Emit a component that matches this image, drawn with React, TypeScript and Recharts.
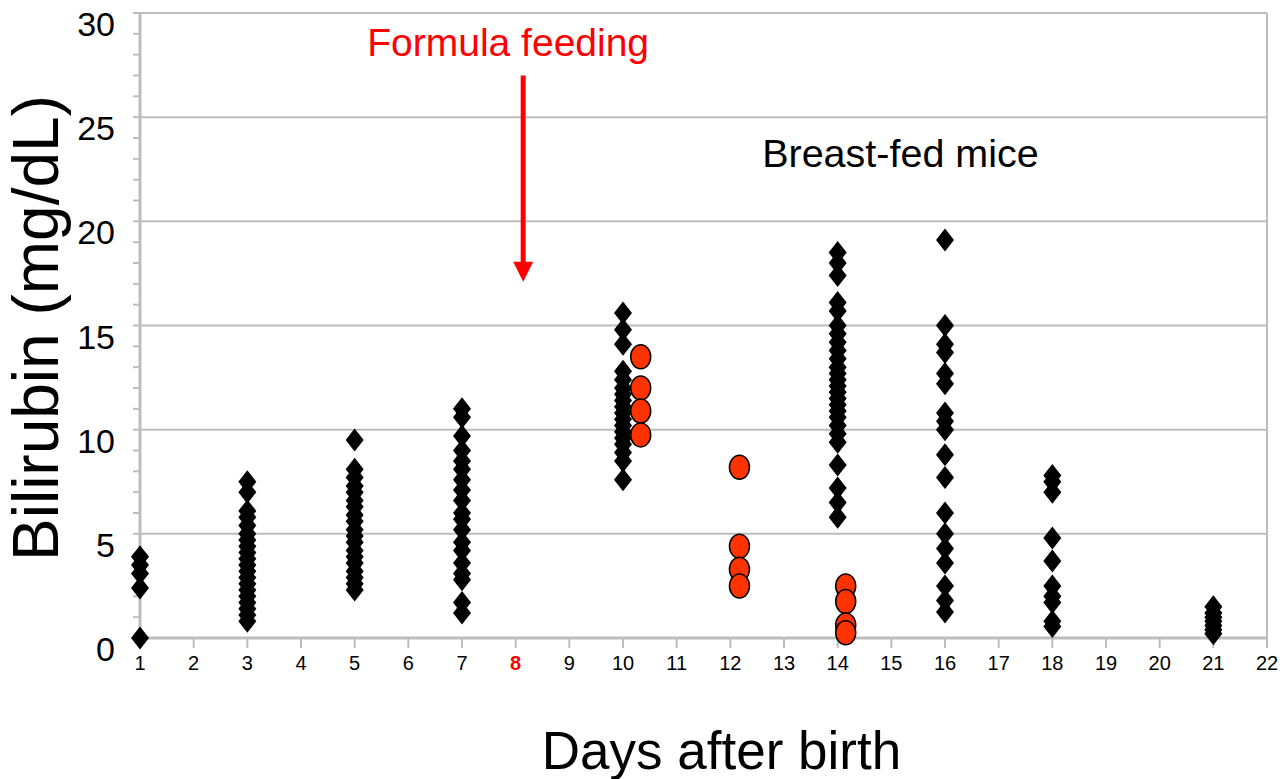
import React from 'react';
import {
  ScatterChart, Scatter, XAxis, YAxis, CartesianGrid, ReferenceLine, ReferenceDot
} from 'recharts';

// bilirubin readings per sampling day (mg/dL)
const breastDay1 = [3.9, 3.5, 3.1, 2.4, 0];
const breastDay3 = [7.5, 7.0, 6.1, 5.8, 5.4, 5.0, 4.7, 4.4, 4.1, 3.8, 3.5, 3.2, 2.9, 2.6, 2.3, 2.0, 1.7, 1.4, 1.1, 0.8];
const breastDay5 = [9.5, 8.1, 7.7, 7.3, 7.0, 6.6, 6.3, 5.9, 5.6, 5.2, 4.9, 4.6, 4.2, 3.9, 3.6, 3.2, 2.9, 2.6, 2.3];
const breastDay7 = [11.0, 10.6, 9.7, 9.0, 8.5, 8.1, 7.6, 7.1, 6.6, 6.0, 5.7, 5.2, 4.6, 4.2, 3.6, 3.1, 2.8, 1.7, 1.2];
const breastDay10 = [15.6, 14.8, 14.1, 12.8, 12.4, 12.0, 11.7, 11.4, 11.1, 10.8, 10.5, 10.2, 9.9, 9.6, 9.3, 8.9, 8.5, 7.6];
const breastDay14 = [18.5, 18.0, 17.4, 16.1, 15.7, 15.0, 14.6, 14.2, 13.8, 13.4, 13.0, 12.7, 12.4, 12.1, 11.8, 11.5, 11.2, 10.9, 10.6, 10.2, 9.8, 9.4, 8.3, 7.2, 6.5, 5.8];
const breastDay16 = [19.1, 15.0, 14.1, 13.7, 12.7, 12.2, 10.8, 10.4, 10.0, 8.8, 7.7, 6.0, 5.0, 4.3, 3.6, 2.5, 1.8, 1.25];
const breastDay18 = [7.8, 7.5, 7.0, 4.8, 3.7, 2.5, 2.0, 1.7, 0.8, 0.55];
const breastDay21 = [1.5, 1.2, 1.0, 0.8, 0.6, 0.4, 0.2];

const formulaDay10 = [13.5, 12.0, 10.9, 9.75];
const formulaDay12 = [8.2, 4.4, 3.3, 2.5];
const formulaDay14 = [2.5, 1.75, 0.62, 0.25];

const dayTicks = [1, 2, 3, 4, 5, 6, 7, 8, 9, 10, 11, 12, 13, 14, 15, 16, 17, 18, 19, 20, 21, 22];
const bilirubinTicks = Array.from({ length: 31 }, (_, i) => i);
const gridValues = [0, 5, 10, 15, 20, 25, 30];

const toPoints = (day: number, values: number[]) => values.map(v => ({ x: day, y: v }));

const breastFed = [
  ...toPoints(1, breastDay1),
  ...toPoints(3, breastDay3),
  ...toPoints(5, breastDay5),
  ...toPoints(7, breastDay7),
  ...toPoints(10, breastDay10),
  ...toPoints(14, breastDay14),
  ...toPoints(16, breastDay16),
  ...toPoints(18, breastDay18),
  ...toPoints(21, breastDay21),
];

const formulaFed = [
  ...toPoints(10.33, formulaDay10),
  ...toPoints(12.17, formulaDay12),
  ...toPoints(14.15, formulaDay14),
];

const FONT = '"Liberation Sans", Arial, sans-serif';
const AXIS_GRAY = '#bdbdbd';

const Diamond = (props: any) => {
  const { cx, cy } = props;
  if (cx == null || cy == null) return null;
  return (
    <polygon
      points={`${cx},${cy - 11.5} ${cx + 9},${cy} ${cx},${cy + 11.5} ${cx - 9},${cy}`}
      fill="#000"
    />
  );
};

const Oval = (props: any) => {
  const { cx, cy } = props;
  if (cx == null || cy == null) return null;
  return <ellipse cx={cx} cy={cy} rx={10} ry={12} fill="#FF3300" stroke="#000" strokeWidth={1.5} />;
};

const YTick = (props: any) => {
  const { x, y, payload } = props;
  if (payload.value % 5 !== 0) return null;
  return (
    <text x={x} y={y + 11} textAnchor="end" dominantBaseline="central" fontSize={34} fontFamily={FONT} fill="#000">
      {payload.value}
    </text>
  );
};

const XTick = (props: any) => {
  const { x, y, payload } = props;
  const isFeed = payload.value === 8;
  return (
    <text
      x={x}
      y={y + 1}
      textAnchor="middle"
      dominantBaseline="central"
      fontSize={20}
      fontFamily={FONT}
      fontWeight={isFeed ? 'bold' : 'normal'}
      fill={isFeed ? '#ff0000' : '#000'}
    >
      {payload.value}
    </text>
  );
};

const FeedingArrow = (props: any) => {
  const { x1, y1, y2 } = props;
  const headLen = 20;
  return (
    <g>
      <line x1={x1} y1={y1} x2={x1} y2={y2 - headLen + 2} stroke="#ff0000" strokeWidth={5} />
      <polygon points={`${x1 - 10},${y2 - headLen} ${x1 + 10},${y2 - headLen} ${x1},${y2}`} fill="#ff0000" />
    </g>
  );
};

const makeTextShape = (label: string, color: string, size: number) => (props: any) => {
  const { cx, cy } = props;
  return (
    <text x={cx} y={cy} textAnchor="middle" dominantBaseline="central" fontSize={size} fontFamily={FONT} fill={color}>
      {label}
    </text>
  );
};

const AxisTitleX = (props: any) => {
  const { viewBox } = props;
  const cx = viewBox.x + viewBox.width / 2 + 18;
  return (
    <text x={cx} y={750} textAnchor="middle" dominantBaseline="central" fontSize={53} fontFamily={FONT} fill="#000">
      Days after birth
    </text>
  );
};

const AxisTitleY = () => (
  <text
    x={36}
    y={328}
    transform="rotate(-90 36 328)"
    textAnchor="middle"
    dominantBaseline="central"
    fontSize={64}
    fontFamily={FONT}
    fill="#000"
  >
    Bilirubin (mg/dL)
  </text>
);

export default function App() {
  return (
    <div style={{ position: 'absolute', left: 0, top: 0, background: '#fff' }}>
      <ScatterChart width={1280} height={779} margin={{ top: 13, right: 13, bottom: 0, left: 0 }}>
        <CartesianGrid vertical={false} horizontalValues={gridValues} stroke={AXIS_GRAY} strokeWidth={2} />
        <XAxis
          type="number"
          dataKey="x"
          domain={[1, 22]}
          ticks={dayTicks}
          interval={0}
          height={141}
          axisLine={{ stroke: AXIS_GRAY, strokeWidth: 3 }}
          tickLine={{ stroke: AXIS_GRAY, strokeWidth: 2 }}
          tickSize={10}
          tickMargin={14}
          tick={<XTick />}
          label={<AxisTitleX />}
        />
        <YAxis
          type="number"
          dataKey="y"
          domain={[0, 30]}
          ticks={bilirubinTicks}
          interval={0}
          width={140}
          axisLine={{ stroke: AXIS_GRAY, strokeWidth: 3 }}
          tickLine={{ stroke: AXIS_GRAY, strokeWidth: 2 }}
          tickSize={7}
          tickMargin={18}
          tick={<YTick />}
          label={<AxisTitleY />}
        />
        <ReferenceLine x={22} stroke={AXIS_GRAY} strokeWidth={2} />
        <Scatter data={breastFed} shape={<Diamond />} isAnimationActive={false} />
        <Scatter data={formulaFed} shape={<Oval />} isAnimationActive={false} />
        <ReferenceLine
          segment={[{ x: 8.14, y: 27.0 }, { x: 8.14, y: 17.1 }]}
          shape={<FeedingArrow />}
        />
        <ReferenceDot x={7.86} y={28.6} r={0} shape={makeTextShape('Formula feeding', '#ff0000', 39)} />
        <ReferenceDot x={15.17} y={23.3} r={0} shape={makeTextShape('Breast-fed mice', '#000', 39.5)} />
      </ScatterChart>
    </div>
  );
}
